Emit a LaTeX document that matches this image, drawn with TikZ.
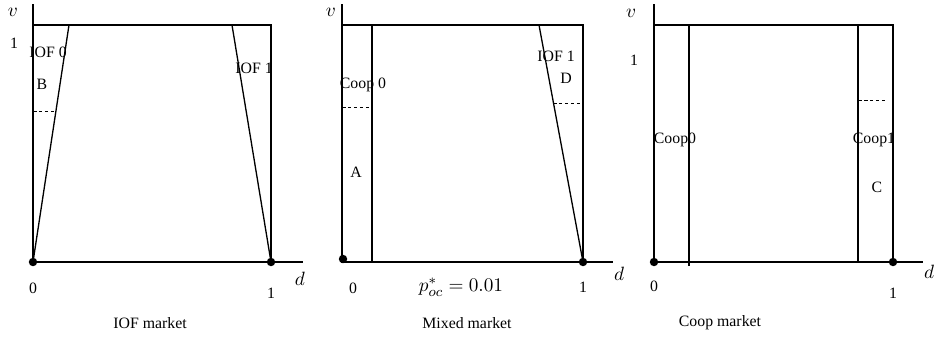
\documentclass[tikz,border=0pt]{standalone}
\usepackage{fontspec}
\setmainfont{Liberation Serif}
\usetikzlibrary{positioning}
\tikzset{
  axisline/.style={line width=0.9pt,line cap=rect},
  bound/.style={line width=0.75pt},
  cutoff/.style={dash pattern=on 2pt off 1.4pt,line width=0.5pt},
  dot/.style={circle,fill=black,inner sep=0pt,minimum size=4.8pt},
  lbl/.style={font=\fontsize{9}{11}\selectfont,inner sep=0.5pt},
  axlbl/.style={font=\fontsize{11}{13}\selectfont,inner sep=0.5pt},
  title/.style={font=\fontsize{9}{11}\selectfont,inner sep=0.5pt},
}
\begin{document}
\begin{tikzpicture}[x=0.02cm,y=-0.02cm]
  \useasboundingbox (0,0) rectangle (939,339);

  % IOF market
  \coordinate (vtop1) at (33,5);
  \coordinate (orig1) at (33,262);
  \coordinate (dend1) at (302,262);
  \coordinate (tl1) at (33,25);
  \coordinate (tr1) at (271,25);
  \coordinate (one1) at (271,262);
  \coordinate (iofa1) at (69,25);
  \coordinate (iofb1) at (232,25);
  \coordinate (cuta1) at (33,111);
  \coordinate (cutb1) at (56,111);
  \draw[axisline] (vtop1) -- (orig1) -- (dend1);
  \draw[bound] (tl1) -- (tr1) -- (one1);
  \draw[bound] (orig1) -- (iofa1);
  \draw[bound] (iofb1) -- (one1);
  \draw[cutoff] (cuta1) -- (cutb1);
  \node[dot] (dzero1) at (orig1) {};
  \node[dot] (done1) at (one1) {};
  \node[axlbl] (v1) at (13,12) {$v$};
  \node[lbl] (vone1) at (14,43) {1};
  \node[lbl] (iof0) at (48,52) {IOF 0};
  \node[lbl] (regB) at (42,84) {B};
  \node[lbl] (iof1a) at (254,68) {IOF 1};
  \node[axlbl] (d1) at (300,279) {$d$};
  \node[lbl] (xzero1) at (33,288) {0};
  \node[lbl] (xone1) at (271,293) {1};
  \node[title] (ttl1) at (150,323) {IOF market};

  % Mixed market
  \coordinate (vtop2) at (342,5);
  \coordinate (orig2) at (342,262);
  \coordinate (dend2) at (612,262);
  \coordinate (tl2) at (342,25);
  \coordinate (tr2) at (583,25);
  \coordinate (one2) at (583,262);
  \coordinate (coopa2) at (372,25);
  \coordinate (coopb2) at (372,262);
  \coordinate (iofb2) at (539,25);
  \coordinate (cuta2) at (342,107);
  \coordinate (cutb2) at (370,107);
  \coordinate (cutc2) at (553,103);
  \coordinate (cutd2) at (583,103);
  \draw[axisline] (vtop2) -- (orig2) -- (dend2);
  \draw[bound] (tl2) -- (tr2) -- (one2);
  \draw[bound] (coopa2) -- (coopb2);
  \draw[bound] (iofb2) -- (one2);
  \draw[cutoff] (cuta2) -- (cutb2);
  \draw[cutoff] (cutc2) -- (cutd2);
  \node[dot] (dzero2) at (343,259) {};
  \node[dot] (done2) at (one2) {};
  \node[axlbl] (v2) at (331,12) {$v$};
  \node[lbl] (coop0b) at (363,85) {Coop 0};
  \node[lbl] (regA) at (356,172) {A};
  \node[lbl] (iof1b) at (556,56) {IOF 1};
  \node[lbl] (regD) at (566,78) {D};
  \node[axlbl] (d2) at (619,274) {$d$};
  \node[lbl] (xzero2) at (353,288) {0};
  \node[axlbl] (pstar) at (461,287) {$p^{*}_{oc}=0.01$};
  \node[lbl] (xone2) at (583,287) {1};
  \node[title] (ttl2) at (467,323) {Mixed market};

  % Coop market
  \coordinate (vtop3) at (654,5);
  \coordinate (orig3) at (654,262);
  \coordinate (dend3) at (922,262);
  \coordinate (tl3) at (654,25);
  \coordinate (tr3) at (893,25);
  \coordinate (one3) at (893,262);
  \coordinate (coopa3) at (689,25);
  \coordinate (coopb3) at (689,266);
  \coordinate (coopc3) at (858,25);
  \coordinate (coopd3) at (858,262);
  \coordinate (cuta3) at (858,100);
  \coordinate (cutb3) at (885,100);
  \draw[axisline] (vtop3) -- (orig3) -- (dend3);
  \draw[bound] (tl3) -- (tr3) -- (one3);
  \draw[bound] (coopa3) -- (coopb3);
  \draw[bound] (coopc3) -- (coopd3);
  \draw[cutoff] (cuta3) -- (cutb3);
  \node[dot] (dzero3) at (orig3) {};
  \node[dot] (done3) at (one3) {};
  \node[axlbl] (v3) at (631,13) {$v$};
  \node[lbl] (vone3) at (634,60) {1};
  \node[lbl] (coop0c) at (675,140) {Coop0};
  \node[lbl] (coop1c) at (874,140) {Coop1};
  \node[lbl] (regC) at (877,187) {C};
  \node[axlbl] (d3) at (929,272) {$d$};
  \node[lbl] (xzero3) at (654,286) {0};
  \node[lbl] (xone3) at (893,293) {1};
  \node[title] (ttl3) at (720,323) {Coop market};
\end{tikzpicture}
\end{document}
